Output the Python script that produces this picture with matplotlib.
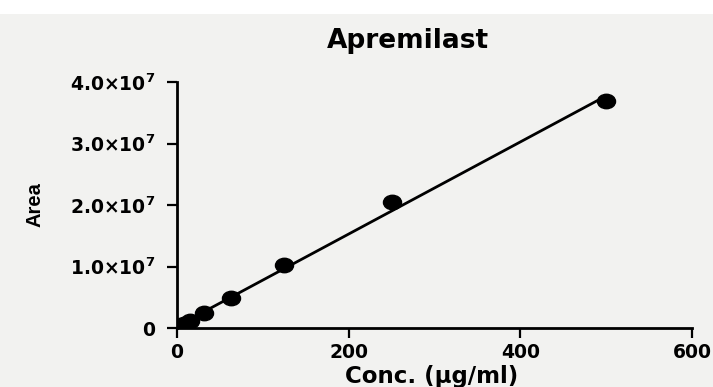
import numpy as np
import matplotlib
matplotlib.use("Agg")
import matplotlib.pyplot as plt
from matplotlib.path import Path
from matplotlib.transforms import Affine2D
from matplotlib.ticker import FuncFormatter
from matplotlib.patches import Rectangle

plt.rcParams["font.family"] = ["DejaVu Sans"]
plt.rcParams["mathtext.fontset"] = "dejavusans"

# ── data ─────────────────────────────────────────────────────────────────────
conc = [3.9, 7.8, 15.6, 31.25, 62.5, 125, 250, 500]          # µg/ml
area = [0.03e7, 0.06e7, 0.12e7, 0.24e7, 0.48e7, 1.03e7, 2.05e7, 3.69e7]
x_ticks = [0, 200, 400, 600]
y_ticks = [0, 1e7, 2e7, 3e7, 4e7]

# linear calibration fit
slope, intercept = np.polyfit(conc, area, 1)
x_fit = np.array([0, max(conc)])
y_fit = slope * x_fit + intercept

# ── figure ───────────────────────────────────────────────────────────────────
fig = plt.figure(figsize=(7.13, 3.87), dpi=100)
fig.patch.set_facecolor("white")
fig.add_artist(Rectangle((0, 0), 1, 1 - 14 / 387, transform=fig.transFigure,
                         facecolor="#f2f2f0", edgecolor="none", zorder=-10))

ax = fig.add_axes([177 / 713, 59 / 387, 515 / 713, 246 / 387])
ax.set_facecolor("none")

ellipse = Affine2D().scale(1.0, 0.8).transform_path(Path.unit_circle())
ax.plot(x_fit, y_fit, color="black", lw=2, zorder=2)
ax.plot(conc, area, linestyle="none", marker=ellipse, markersize=13,
        color="black", zorder=3)

ax.set_xlim(0, 600)
ax.set_ylim(0, 4e7)
ax.set_xticks(x_ticks)
ax.set_yticks(y_ticks)


def sci_fmt(v, _):
    if v == 0:
        return "0"
    return r"$\mathbf{%.1f{\times}10^{7}}$" % (v / 1e7)


ax.yaxis.set_major_formatter(FuncFormatter(sci_fmt))
ax.xaxis.set_major_formatter(FuncFormatter(lambda v, _: f"{v:.0f}"))

for side in ["top", "right"]:
    ax.spines[side].set_visible(False)
for side in ["left", "bottom"]:
    ax.spines[side].set_linewidth(2)
ax.tick_params(direction="out", length=7.5, width=1.6, labelsize=13.5)
ax.tick_params(axis="y", pad=8)
ax.tick_params(axis="x", pad=3)
for lab in ax.get_xticklabels() + ax.get_yticklabels():
    lab.set_fontweight("bold")

fig.text(408 / 713, 1 - 41 / 387, "Apremilast", ha="center", va="center",
         fontsize=19, fontweight="bold")
fig.text(432 / 713, 1 - 376 / 387, "Conc. (µg/ml)", ha="center", va="center",
         fontsize=16.5, fontweight="bold")
fig.text(35 / 713, 1 - 205 / 387, "Area", ha="center", va="center",
         fontsize=14.5, rotation=90, family="Liberation Sans",
         fontweight="bold")

fig.savefig("out.png", dpi=100)
